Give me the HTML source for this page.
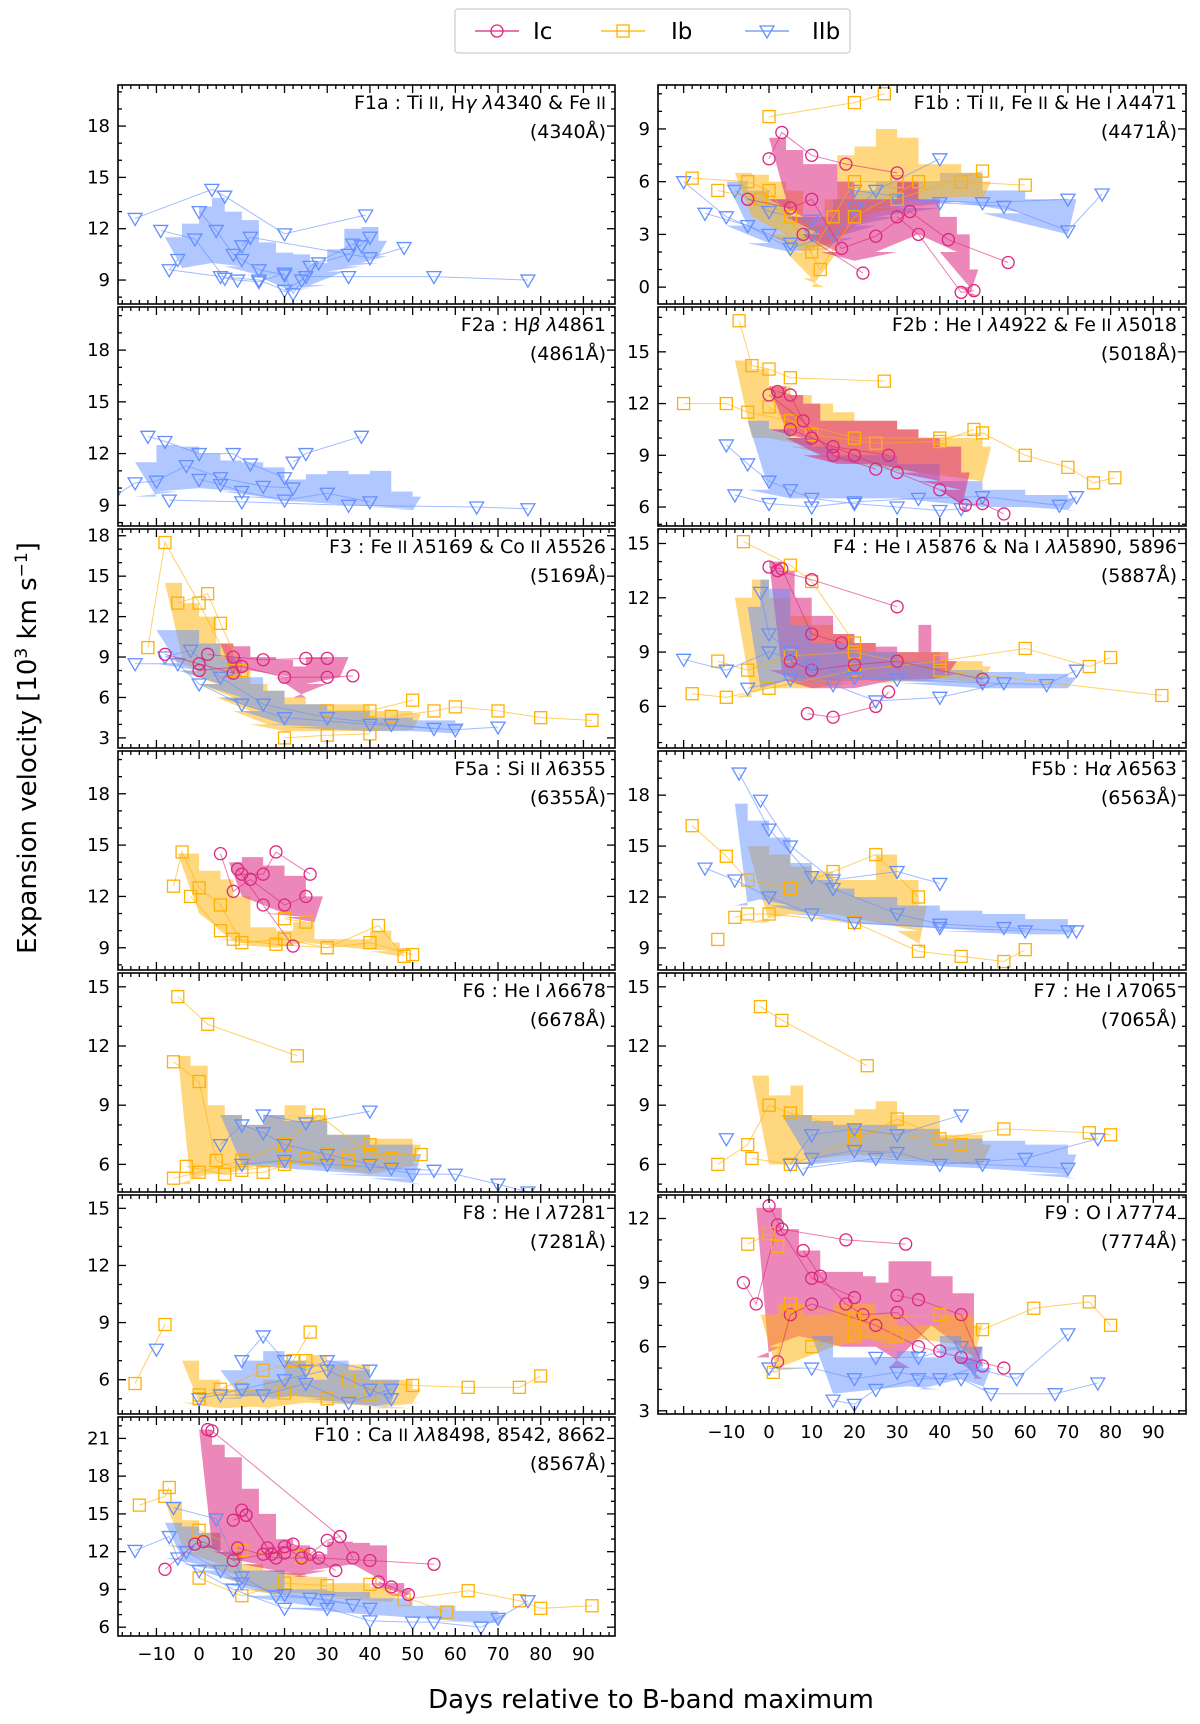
<!DOCTYPE html>
<html><head><meta charset="utf-8">
<style>
html,body{margin:0;padding:0;background:#fff;}
svg{display:block;font-family:"DejaVu Sans","Liberation Sans",sans-serif;}
</style></head>
<body>
<svg id="fig" width="1200" height="1724" viewBox="0 0 1200 1724" xmlns="http://www.w3.org/2000/svg"></svg>
<script>
// ---------- data (day, low, high) bands and (day, value) lines ----------
const F1a_IIb_band=[[-8,9.7,11.5],[-4,9.7,12.3],[0,10,13.3],[3,10,13.8],[6,9.8,13],[10,9.3,12.5],[14,9.2,11.2],[18,8.3,10.6],[22,8.5,10.5],[26,8.7,10],[30,9.5,10.8],[34,9.8,12],[38,10,12.1],[42,10.4,11.3]];
const F1a_IIb_lines=[[[-15,12.6],[3,14.3],[6,13.9],[20,11.7],[39,12.8]],[[-9,11.9],[-1,11.4],[6,9.1],[9,9],[14,8.9],[20,9.4]],[[0,13],[4,11.9],[8,10.5],[10,10.2],[14,9.6],[20,9.3],[22,8.2],[26,9.8],[36,11.1],[38,11]],[[-5,10.2],[-7,9.6],[5,9.2],[14,9],[20,8.4],[24,9],[28,10],[35,10.5],[40,11.5]],[[10,11],[12,11.5],[40,10.3],[48,10.9]],[[25,9.2],[35,9.2],[55,9.2],[77,9]]];
const F2a_IIb_band=[[-15,9.5,11.5],[-10,9.8,12.5],[-5,10,12.4],[0,10,12],[5,9.8,11.6],[10,9.5,11.5],[15,9.3,11.2],[20,9.2,10.5],[25,9.2,10.8],[30,9,11],[35,9,10.8],[40,8.9,11],[45,8.8,9.8],[50,8.7,9.5]];
const F2a_IIb_lines=[[[-20,9.5],[-15,10.3],[-10,10.4],[-3,11.3],[5,10.6],[15,10.1],[22,10]],[[-12,13],[-8,12.7],[0,12],[8,12],[12,11.4],[20,10.6]],[[-7,9.3],[10,9.2],[35,9.0],[65,8.9],[77,8.8]],[[0,10.5],[5,10.2],[10,9.8],[20,9.3],[30,9.7],[40,9.2]],[[22,11.5],[25,12],[38,13]]];
const F3_Ic_band=[[5,7.5,10],[8,8,9.8],[12,8,9],[18,7.5,8.8],[22,6,8.3],[25,7,9],[30,7.5,9],[33,7.5,9]];
const F3_Ic_lines=[[[2,9.2],[8,9],[15,8.8],[25,8.9],[30,8.9]],[[0,8],[10,8.3],[20,7.5],[30,7.5],[36,7.6]],[[-8,9.2],[0,8.5],[8,7.8]]];
const F3_Ib_band=[[-8,9,14.5],[-4,8,13],[0,7,12],[4,6,10],[8,5,8],[12,4,7],[16,3.5,6.5],[20,3.5,6],[25,3.5,5.5],[30,3.5,5.5],[40,3.5,5],[50,3.6,4.8]];
const F3_Ib_lines=[[[-12,9.7],[-8,17.5],[0,13],[8,8]],[[-5,13],[2,13.7],[5,11.5],[10,8]],[[30,5],[40,5],[50,5.8]],[[45,4.6],[55,5],[60,5.3],[70,5],[80,4.5],[92,4.3]],[[20,3],[30,3.2],[40,3.3]]];
const F3_IIb_band=[[-10,8.5,11],[-5,8,11],[0,7,10],[5,6,9],[10,5,7.5],[15,4,6.5],[20,3.8,5.5],[30,3.5,5],[40,3.5,4.5],[50,3.5,4.3],[60,3.3,4.1]];
const F3_IIb_lines=[[[-15,8.5],[-5,8.5],[0,7],[10,5.5],[20,4.5],[40,4],[60,3.6],[70,3.8]],[[-8,9],[-2,9.5],[5,7.5],[15,5.5],[30,4.5],[45,4],[55,3.7]]];
const F5a_Ic_band=[[7,12,14],[10,12,14.3],[15,11,13.8],[20,10.8,13.2],[25,10.5,12],[27,10.5,12]];
const F5a_Ic_lines=[[[5,14.5],[8,12.3],[12,13],[20,11.5],[25,12]],[[10,13.3],[15,13.3],[18,14.6],[26,13.3]],[[9,13.6],[15,11.5],[22,9.1]]];
const F5a_Ib_band=[[-5,11,14.5],[0,11,13.5],[5,9.5,13],[8,9.2,12],[12,9,10.2],[18,9,10],[22,9.4,10.5],[27,9,9.5],[35,9,9.5],[40,8.8,10],[45,8.5,9.3],[47,8.5,9]];
const F5a_Ib_lines=[[[-6,12.6],[-4,14.6],[0,12.5],[5,11.5],[10,9.3],[20,9.5],[30,9],[40,9.3],[50,8.6]],[[-2,12],[5,10],[8,9.5],[18,9.2],[30,9],[42,10.3],[48,8.5]],[[20,10.7],[25,10.5]]];
const F6_Ib_band=[[-5,5,11.5],[-2,5.5,11],[2,5.5,9],[6,5.5,8.5],[10,6,8],[15,6,8.5],[20,6,9],[25,6,8.5],[30,5.5,7.5],[40,5.5,7.3],[50,6,7]];
const F6_Ib_lines=[[[-5,14.5],[2,13.1],[23,11.5]],[[-6,11.2],[0,10.2],[4,6.2],[10,5.7],[20,6],[30,6.5],[40,7]],[[-6,5.3],[0,5.6],[10,6.2],[20,7],[28,8.5],[40,6.5],[52,6.5]],[[-3,5.9],[6,5.5],[15,5.6],[25,6.3],[35,6.2],[45,6.3]]];
const F6_IIb_band=[[5,6,8.5],[10,6,8],[15,5.8,8.5],[20,5.8,8.2],[30,5.5,7.5],[40,5.3,7],[50,5,6.5]];
const F6_IIb_lines=[[[5,7],[10,8],[15,7.6],[20,7],[30,6.5],[40,6],[50,5.5],[60,5.5],[70,5],[77,4.6]],[[15,8.5],[25,8.1],[40,8.7]],[[10,6],[20,6.2],[30,6],[45,5.8],[55,5.7]]];
const F8_Ib_band=[[-4,4.8,7],[0,4.5,6],[5,4.5,5.5],[10,4.6,5.5],[15,4.5,6],[20,4.8,7],[25,4.8,7.3],[30,4.7,6.8],[35,4.7,6.8],[40,4.5,6],[50,4.8,5.5]];
const F8_Ib_lines=[[[-15,5.8],[-8,8.9]],[[0,5],[5,5.5],[15,6.5],[25,7],[35,6],[50,5.7],[63,5.6],[75,5.6],[80,6.2]],[[22,7],[26,8.5]],[[0,5.2],[10,5.5],[20,5.3],[30,5],[40,5.2]]];
const F8_IIb_band=[[5,5,6.5],[10,5.2,7],[15,5,7.5],[20,5.2,7],[25,5,6],[30,4.8,7],[35,4.7,6.5],[40,4.6,6],[45,4.8,6]];
const F8_IIb_lines=[[[-10,7.6]],[[10,7],[15,8.3],[20,7],[25,6.5],[30,7],[40,6.5]],[[0,5],[10,5.5],[20,6],[30,6.5],[40,5.5],[45,5]],[[5,5.2],[15,5.2],[25,5.8],[35,4.8],[45,5.5]]];
const F10_Ic_band=[[0,12.5,21.7],[3,12,20.5],[6,11.5,19.5],[10,11,17],[14,10.5,15],[18,10.3,13],[22,10,12.5],[26,10.5,11.8],[30,11,12.8],[36,11,12.7],[40,9.5,12.5],[44,8.6,9.5],[48,8.3,9]];
const F10_Ic_lines=[[[2,21.7],[3,21.6],[33,13.2]],[[10,15.3],[11,14.9],[16,12.3],[20,12.4],[24,11.5],[26,11.8],[30,12.9],[33,13.2],[36,11.5]],[[-8,10.6],[-1,12.6],[1,12.8],[8,11.3],[15,11.8],[20,11.9]],[[8,14.5],[11,14.9],[17,11.8],[22,12.6],[32,10.5]],[[9,12.3],[18,11.5],[28,11.5],[40,11.3],[55,11]],[[42,9.6],[45,9.2],[49,8.6]]];
const F10_Ib_band=[[-8,12.5,16],[-4,12,14.5],[0,11,13.5],[5,10,12],[10,9,11],[15,8.5,10.5],[20,8.8,10.3],[25,8.5,10],[30,8.3,9.5],[40,8,9.2],[45,8,8.7]];
const F10_Ib_lines=[[[-14,15.7],[-8,16.4],[-7,17.1]],[[0,13.7],[10,12.1],[24,11.6]],[[0,9.9],[10,8.5],[20,9.5],[30,9.3]],[[48,8.2],[63,8.9],[75,8.1],[80,7.5],[92,7.7]],[[40,9.4],[58,7.2]]];
const F10_IIb_band=[[-8,11.5,14.3],[-4,11,14],[0,10.5,13.5],[5,9.5,12],[10,8.5,10.5],[20,7.5,9],[30,7,8.8],[40,7,8.3],[50,6.5,7.7],[60,6.4,7.3],[70,6.3,7]];
const F10_IIb_lines=[[[-15,12.1],[-7,13.2],[-5,11.5],[0,10.5],[8,9],[20,7.5],[30,7.5],[40,6.5],[50,6.4],[55,6.4],[66,6],[70,6.7],[77,8.1]],[[-6,15.5],[4,14.6],[10,10],[18,8.5],[26,8.3],[36,7.8]],[[-3,12],[5,10.5],[10,9.5],[20,8.6],[30,8.2],[40,7.5]]];
const F1b_Ic_band=[[0,5,8.5],[4,4,7.8],[8,3,7],[12,2,7],[16,1.5,6],[20,1.5,5],[25,2,5],[30,3,6],[35,3,5],[40,2,4],[44,0,3],[47,-0.5,1]];
const F1b_Ic_lines=[[[0,7.3],[3,8.8],[10,7.5],[18,7],[30,6.5]],[[-5,5],[5,4.5],[10,5],[17,2.2],[25,2.9],[33,4.3],[42,2.7],[56,1.4]],[[8,3],[22,0.8]],[[30,4],[35,3],[45,-0.3],[48,-0.2]]];
const F1b_Ib_band=[[-8,4,6.5],[-4,4,6.4],[0,3,6],[4,2,5.5],[8,0.5,4],[10,0,3.5],[13,2,5],[16,3.5,7.5],[20,4,8],[25,4.5,9],[30,5,8.5],[35,5,7],[45,5.2,6.5],[50,5,6]];
const F1b_Ib_lines=[[[0,9.7],[20,10.5],[27,11]],[[-18,6.2],[-5,6],[0,5.5],[10,2],[15,4],[20,6],[30,6],[45,6],[60,5.8]],[[-12,5.5],[-2,5],[5,4],[12,1],[20,4],[35,6]],[[30,5],[50,6.6]]];
const F1b_IIb_band=[[-10,3.5,6],[-5,2.5,5.5],[0,2,5],[5,2,4],[10,2.2,4],[15,2.8,5],[20,3.5,5.5],[25,4,6],[30,4.5,6],[40,5,6.5],[50,4.2,5.5],[60,3,5],[70,3,5]];
const F1b_IIb_lines=[[[-20,6],[-10,4],[0,3],[5,2.5],[10,3],[20,4.5],[30,5],[50,4.8],[70,5]],[[-15,4.2],[-5,3.5],[5,2.2],[15,3],[25,5.5],[40,7.3]],[[-8,5.5],[0,4.3],[10,3.8],[20,5.5],[40,4.8],[55,4.6],[70,3.2],[78,5.3]]];
const F2b_Ic_band=[[0,10.5,13],[4,10,12.5],[8,9,12],[12,8.5,11],[16,8.5,11],[20,8.5,11],[25,8.5,11],[30,8,10.5],[35,7.5,10],[40,7,9.5],[45,5.8,8]];
const F2b_Ic_lines=[[[2,12.7],[5,12.5],[10,10],[20,9],[30,8],[40,7],[46,6.1],[50,6.2],[55,5.6]],[[0,12.5],[8,11],[15,9],[25,8.2]],[[5,10.5],[15,9.5],[28,9]]];
const F2b_Ib_band=[[-8,10,14.5],[-4,10,14],[0,10,13],[5,9.5,12.5],[10,9,12],[15,8.5,11.5],[20,8.5,11],[25,8.2,11],[30,8,10.5],[35,8,10],[40,7.5,10],[50,7.5,9.5]];
const F2b_Ib_lines=[[[-7,16.8],[-4,14.2],[0,14],[5,13.5],[27,13.3]],[[-20,12],[-10,12],[-5,11.5],[5,11],[20,10],[40,10],[50,10.3],[60,9],[70,8.3],[76,7.4],[81,7.7]],[[0,11.8],[10,10.2],[25,9.7],[40,9.8],[48,10.5]]];
const F2b_IIb_band=[[-5,7,11],[0,6.5,10.5],[5,6.5,10],[10,6.5,9.5],[15,6.5,9],[20,6.5,9],[30,6.5,8.5],[40,6,7.5],[50,6,7],[60,6,6.7],[70,5.8,6.5]];
const F2b_IIb_lines=[[[-10,9.6],[-5,8.5],[0,7.5],[5,7],[10,6.5],[20,6.2],[30,6],[40,5.8],[45,5.9]],[[-8,6.7],[0,6.2],[10,6],[20,6.3],[35,6.5],[50,6.6],[68,6.1],[72,6.6]]];
const F4_Ic_band=[[0,8,14],[3,7.5,13.5],[6,7,12],[10,7,11],[15,7,10],[20,7,9.5],[25,7.5,9.3],[30,7.5,9],[35,7.5,10.5],[38,7.5,9],[42,7.8,8.5]];
const F4_Ic_lines=[[[0,13.7],[3,13.6],[10,10],[17,9.5]],[[2,13.5],[10,13],[30,11.5]],[[5,8.5],[10,8],[20,8.3],[30,8.5],[50,7.5]],[[9,5.6],[15,5.4],[25,6],[28,6.8]]];
const F4_Ib_band=[[-8,6.5,12],[-4,7,13],[0,7,12],[5,7,11],[10,7,10.5],[15,7.3,10],[20,7.5,9.5],[25,7.3,9],[30,7.5,9],[40,7.5,8.5],[50,7.3,8.2]];
const F4_Ib_lines=[[[-6,15.1],[5,13.8],[10,12.9],[20,9.5]],[[-18,6.7],[-10,6.5],[0,7],[20,8],[40,8.5],[60,9.2],[75,8.2],[80,8.7]],[[-12,8.5],[-5,8],[5,8.8],[20,9],[40,8],[92,6.6]]];
const F4_IIb_band=[[-5,7,11.5],[-2,7,13],[0,7.5,12.5],[5,7.5,10.5],[10,7.5,9.5],[20,7.5,9],[30,7.3,8.5],[40,7,8],[50,7,7.9],[60,7,7.8],[70,7,7.6]];
const F4_IIb_lines=[[[-20,8.6],[-10,8],[0,9],[10,8.3],[20,7.6],[30,7.5],[50,7.3],[65,7.2],[72,8]],[[-5,7],[5,7.5],[15,7.2],[25,6.3],[40,6.5],[55,7.3]],[[-2,12.3],[0,10],[5,9]]];
const F5b_Ib_band=[[-5,10.5,15],[0,11,14.5],[5,11,13.8],[10,11,13.5],[15,11,13],[20,10.5,13],[25,10.5,14.5],[30,10,13],[35,9,11.5]];
const F5b_Ib_lines=[[[-18,16.2],[-10,14.4],[-5,13],[5,12.5],[15,13.5],[25,14.5],[35,12]],[[-8,10.8],[-5,11],[0,11],[20,10.5],[35,8.8],[45,8.5],[55,8.2],[60,8.9]],[[-12,9.5]]];
const F5b_IIb_band=[[-8,11.5,17.5],[-5,12,16.5],[0,11.5,15.5],[5,11,14],[10,10.8,13],[15,10.5,12.5],[20,10.3,12],[30,10.3,11.5],[40,10,11.2],[50,9.8,11],[60,9.8,10.7],[70,9.8,10.3]];
const F5b_IIb_lines=[[[-7,19.3],[0,16],[10,13.2],[15,12.5],[30,11],[40,10.4],[55,10.2],[70,10],[72,10]],[[-15,13.7],[-8,13],[0,12],[10,11],[20,10.5],[40,10.2],[60,10]],[[-2,17.7],[5,15],[15,13],[30,13.5],[40,12.8]]];
const F7_Ib_band=[[-4,6,10.5],[0,6,9.5],[5,6,10],[8,6.2,8.5],[15,6.5,8.5],[20,6.5,8.8],[25,6.3,9.2],[30,6.3,8.5],[40,6,7.5],[50,6,7]];
const F7_Ib_lines=[[[-2,14],[3,13.3],[23,11]],[[-12,6],[-5,7],[0,9],[5,8.6],[20,7.7],[40,7.3],[55,7.8],[75,7.6],[80,7.5]],[[-4,6.3],[5,6],[20,7.2],[30,8.3],[45,7]]];
const F7_IIb_band=[[3,6,8.5],[10,6,8.2],[15,6.2,8],[20,6,8],[30,6,7.8],[40,5.8,7.3],[50,5.8,7.2],[60,5.5,7],[70,5.3,6.5]];
const F7_IIb_lines=[[[-10,7.3]],[[5,6],[10,7.5],[20,7.8],[30,7.5],[45,8.5]],[[10,6.3],[20,6.7],[30,6.6],[40,6],[60,6.3],[77,7.3]],[[8,5.8],[25,6.3],[50,6],[70,5.8]]];
const F9_Ic_band=[[-3,5.5,12.5],[0,6,12.5],[3,6.5,11.5],[7,6.5,10.5],[12,6,9.5],[17,6,9.5],[22,6,9.3],[25,6,9],[28,5,10],[33,7,10],[38,7,9.3],[43,5.5,8.5],[48,4.5,6]];
const F9_Ic_lines=[[[-6,9],[-3,8],[2,11.7],[10,9.2],[20,8.3]],[[0,12.6],[3,11.5],[18,11],[32,10.8]],[[8,10.5],[12,9.3],[18,8],[22,7.5],[30,7.6],[40,5.8]],[[2,5.3],[5,7.5],[10,8],[25,7],[35,6],[45,5.5],[55,5]],[[30,8.4],[35,8.2],[45,7.5],[50,5.1]]];
const F9_Ib_band=[[-2,4.8,7.5],[2,5,8],[8,6,7.5],[15,6,8],[20,6.5,8],[25,6,7.5],[30,6.5,7],[40,6,7.5],[48,5.5,7]];
const F9_Ib_lines=[[[-5,10.8],[0,11.3],[2,10.7]],[[1,4.8],[5,8],[20,7.3],[40,7.5],[50,6.8],[62,7.8],[75,8.1],[80,7]],[[10,6],[20,6.5],[30,6.5]]];
const F9_IIb_band=[[10,3.8,6.5],[15,3.8,5.5],[20,4,5.5],[25,4,5.5],[30,4.2,5.8],[35,4,5.5],[40,4.5,6.5],[45,4.5,6],[50,4,5]];
const F9_IIb_lines=[[[0,5],[10,5],[20,4.5],[30,4.8],[40,4.5],[48,5],[58,4.5],[70,6.6]],[[15,3.5],[20,3.3],[25,4],[35,4.5],[45,4.5],[52,3.8],[67,3.8],[77,4.3]],[[25,5.5],[35,5.5],[45,6]]];

const xTickLabels=[-10,0,10,20,30,40,50,60,70,80,90];

const R='<tspan font-size="17">';
const panels=[
 {id:'F1a',col:0,row:0,t:'F1a : Ti'+R+' II</tspan>, H<tspan font-style="italic">γ λ</tspan>4340 &amp; Fe'+R+' II</tspan>',w:'(4340Å)',ymin:7.6,ymax:20.4,yt:[9,12,15,18],s:{IIb:[F1a_IIb_band,F1a_IIb_lines]}},
 {id:'F2a',col:0,row:1,t:'F2a : H<tspan font-style="italic">β λ</tspan>4861',w:'(4861Å)',ymin:7.8,ymax:20.5,yt:[9,12,15,18],s:{IIb:[F2a_IIb_band,F2a_IIb_lines]}},
 {id:'F3',col:0,row:2,t:'F3 : Fe'+R+' II</tspan> <tspan font-style="italic">λ</tspan>5169 &amp; Co'+R+' II</tspan> <tspan font-style="italic">λ</tspan>5526',w:'(5169Å)',ymin:2.25,ymax:18.5,yt:[3,6,9,12,15,18],s:{Ib:[F3_Ib_band,F3_Ib_lines],IIb:[F3_IIb_band,F3_IIb_lines],Ic:[F3_Ic_band,F3_Ic_lines]}},
 {id:'F5a',col:0,row:3,t:'F5a : Si'+R+' II</tspan> <tspan font-style="italic">λ</tspan>6355',w:'(6355Å)',ymin:7.7,ymax:20.5,yt:[9,12,15,18],s:{Ib:[F5a_Ib_band,F5a_Ib_lines],Ic:[F5a_Ic_band,F5a_Ic_lines]}},
 {id:'F6',col:0,row:4,t:'F6 : He'+R+' I</tspan> <tspan font-style="italic">λ</tspan>6678',w:'(6678Å)',ymin:4.6,ymax:15.7,yt:[6,9,12,15],s:{Ib:[F6_Ib_band,F6_Ib_lines],IIb:[F6_IIb_band,F6_IIb_lines]}},
 {id:'F8',col:0,row:5,t:'F8 : He'+R+' I</tspan> <tspan font-style="italic">λ</tspan>7281',w:'(7281Å)',ymin:4.2,ymax:15.7,yt:[6,9,12,15],s:{Ib:[F8_Ib_band,F8_Ib_lines],IIb:[F8_IIb_band,F8_IIb_lines]}},
 {id:'F10',col:0,row:6,t:'F10 : Ca'+R+' II</tspan> <tspan font-style="italic">λλ</tspan>8498, 8542, 8662',w:'(8567Å)',ymin:5.3,ymax:22.7,yt:[6,9,12,15,18,21],s:{Ib:[F10_Ib_band,F10_Ib_lines],IIb:[F10_IIb_band,F10_IIb_lines],Ic:[F10_Ic_band,F10_Ic_lines]},xl:true},
 {id:'F1b',col:1,row:0,t:'F1b : Ti'+R+' II</tspan>, Fe'+R+' II</tspan> &amp; He'+R+' I</tspan> <tspan font-style="italic">λ</tspan>4471',w:'(4471Å)',ymin:-0.96,ymax:11.5,yt:[0,3,6,9],s:{IIb:[F1b_IIb_band,F1b_IIb_lines],Ib:[F1b_Ib_band,F1b_Ib_lines],Ic:[F1b_Ic_band,F1b_Ic_lines]}},
 {id:'F2b',col:1,row:1,t:'F2b : He'+R+' I</tspan> <tspan font-style="italic">λ</tspan>4922 &amp; Fe'+R+' II</tspan> <tspan font-style="italic">λ</tspan>5018',w:'(5018Å)',ymin:4.9,ymax:17.6,yt:[6,9,12,15],s:{Ib:[F2b_Ib_band,F2b_Ib_lines],IIb:[F2b_IIb_band,F2b_IIb_lines],Ic:[F2b_Ic_band,F2b_Ic_lines]}},
 {id:'F4',col:1,row:2,t:'F4 : He'+R+' I</tspan> <tspan font-style="italic">λ</tspan>5876 &amp; Na'+R+' I</tspan> <tspan font-style="italic">λλ</tspan>5890, 5896',w:'(5887Å)',ymin:3.7,ymax:15.8,yt:[6,9,12,15],s:{Ib:[F4_Ib_band,F4_Ib_lines],Ic:[F4_Ic_band,F4_Ic_lines],IIb:[F4_IIb_band,F4_IIb_lines]}},
 {id:'F5b',col:1,row:3,t:'F5b : H<tspan font-style="italic">α λ</tspan>6563',w:'(6563Å)',ymin:7.7,ymax:20.6,yt:[9,12,15,18],s:{Ib:[F5b_Ib_band,F5b_Ib_lines],IIb:[F5b_IIb_band,F5b_IIb_lines]}},
 {id:'F7',col:1,row:4,t:'F7 : He'+R+' I</tspan> <tspan font-style="italic">λ</tspan>7065',w:'(7065Å)',ymin:4.6,ymax:15.7,yt:[6,9,12,15],s:{Ib:[F7_Ib_band,F7_Ib_lines],IIb:[F7_IIb_band,F7_IIb_lines]}},
 {id:'F9',col:1,row:5,t:'F9 : O'+R+' I</tspan> <tspan font-style="italic">λ</tspan>7774',w:'(7774Å)',ymin:2.85,ymax:13.1,yt:[3,6,9,12],s:{Ic:[F9_Ic_band,F9_Ic_lines],Ib:[F9_Ib_band,F9_Ib_lines],IIb:[F9_IIb_band,F9_IIb_lines]},xl:true}
];

const COL={Ic:'#dc267f',Ib:'#ffb000',IIb:'#648fff'};
const BAND={Ic:'#dc267f',Ib:'#ffb000',IIb:'#648fff'};
const NS='http://www.w3.org/2000/svg';
const svg=document.getElementById('fig');
function mk(tag,attrs,parent){const e=document.createElementNS(NS,tag);for(const k in attrs)e.setAttribute(k,attrs[k]);(parent||svg).appendChild(e);return e;}

function marker(g,type,x,y){
  let m;
  if(type==='Ic') m=mk('circle',{cx:x,cy:y,r:6,fill:'none',stroke:COL.Ic,'stroke-width':1.3},g);
  else if(type==='Ib') m=mk('rect',{x:x-6,y:y-6,width:12,height:12,fill:'none',stroke:COL.Ib,'stroke-width':1.3},g);
  else m=mk('polygon',{points:`${x-7},${y-5} ${x+7},${y-5} ${x},${y+7}`,fill:'none',stroke:COL.IIb,'stroke-width':1.3},g);
  
  
}

panels.forEach(p=>{
  const x0=p.col?658:118, x1=p.col?1186:615, xmin=p.col?-26:-19, pxd=4.27;
  const top=85+222*p.row, h=219, bot=top+h;
  const X=d=>x0+(d-xmin)*pxd;
  const Y=v=>bot-(v-p.ymin)/(p.ymax-p.ymin)*h;
  const g=mk('g',{});
  
  
  const cid='clip'+p.id;
  const cp=mk('clipPath',{id:cid},g); mk('rect',{x:x0,y:top,width:x1-x0,height:h},cp);
  const dg=mk('g',{'clip-path':`url(#${cid})`},g);
  Object.keys(p.s).forEach(type=>{
    const band=p.s[type][0];
    let up=[],dn=[];
    band.forEach((b,i)=>{const nx=i<band.length-1?band[i+1][0]:b[0]+2;
      up.push(`${X(b[0])},${Y(b[2])}`,`${X(nx)},${Y(b[2])}`);
      dn.push(`${X(nx)},${Y(b[1])}`,`${X(b[0])},${Y(b[1])}`);});
    const poly=mk('polygon',{points:up.concat(dn.reverse()).join(' '),fill:BAND[type],'fill-opacity':type==='Ic'?0.55:0.5,stroke:'none'},dg);
    
    
  });
  Object.keys(p.s).forEach(type=>{
    p.s[type][1].forEach(ln=>{
      if(ln.length>1){const pl=mk('polyline',{points:ln.map(q=>`${X(q[0])},${Y(q[1])}`).join(' '),fill:'none',stroke:COL[type],'stroke-width':1,'stroke-opacity':0.6},dg);
        
        }
      ln.forEach(q=>marker(dg,type,X(q[0]),Y(q[1])));
    });
  });
  const fr=mk('rect',{x:x0,y:top,width:x1-x0,height:h,fill:'none',stroke:'#000','stroke-width':1.6},g);
  
  
  for(let d=Math.ceil(xmin/2)*2; X(d)<=x1; d+=2){
    const maj=d%10===0, L=maj?8:4, x=X(d);
    mk('line',{x1:x,y1:bot,x2:x,y2:bot-L,stroke:'#000','stroke-width':1.3},g);
    mk('line',{x1:x,y1:top,x2:x,y2:top+L,stroke:'#000','stroke-width':1.3},g);
  }
  if(p.xl) xTickLabels.forEach(d=>{const t=mk('text',{x:X(d),y:bot+24,'text-anchor':'middle','font-size':18},g);t.textContent=d<0?'−'+(-d):d;
    });
  for(let v=Math.ceil(p.ymin); v<=p.ymax; v++){
    const maj=v%3===0, L=maj?8:4, y=Y(v);
    mk('line',{x1:x0,y1:y,x2:x0+L,y2:y,stroke:'#000','stroke-width':1.3},g);
    mk('line',{x1:x1,y1:y,x2:x1-L,y2:y,stroke:'#000','stroke-width':1.3},g);
  }
  p.yt.forEach(v=>{const t=mk('text',{x:x0-8,y:Y(v)+6,'text-anchor':'end','font-size':18},g);t.textContent=v;
    });
  const t1=mk('text',{x:x1-9,y:top+24,'text-anchor':'end','font-size':19},g);t1.innerHTML=p.t;
  
  const t2=mk('text',{x:x1-9,y:top+53,'text-anchor':'end','font-size':19},g);t2.textContent=p.w;
  
});

const lg=mk('g',{});


mk('rect',{x:455,y:9,width:395,height:44,rx:3,fill:'#fff',stroke:'#ccc','stroke-width':1.2},lg);
[['Ic',475,533],['Ib',601,671],['IIb',745,812]].forEach(e=>{
  const eg=mk('g',{},lg);
  
  
  mk('line',{x1:e[1],y1:31,x2:e[1]+44,y2:31,stroke:COL[e[0]],'stroke-width':1.3},eg);
  marker(eg,e[0],e[1]+22,31);
  const t=mk('text',{x:e[2],y:39,'font-size':23},eg);t.textContent=e[0];
});
const xt=mk('text',{x:651,y:1708,'text-anchor':'middle','font-size':26});xt.textContent='Days relative to B-band maximum';

const yt=mk('text',{x:0,y:0,'text-anchor':'middle','font-size':26,transform:'translate(36,748) rotate(-90)'});
yt.innerHTML='Expansion velocity [10<tspan dy="-9" font-size="17">3</tspan><tspan dy="9"> km s</tspan><tspan dy="-9" font-size="17">−1</tspan><tspan dy="9">]</tspan>';

</script>
</body></html>
